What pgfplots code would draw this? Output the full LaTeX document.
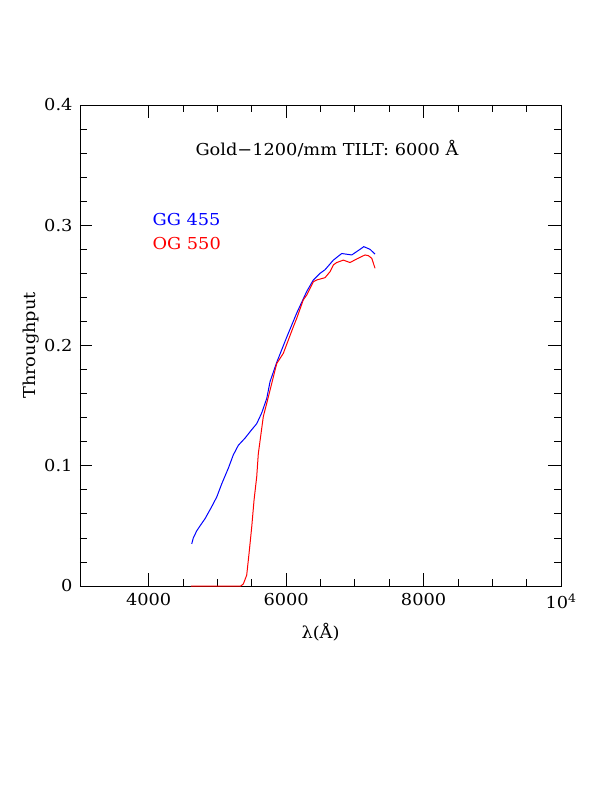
\documentclass[border=0pt]{standalone}
\usepackage{fontspec}
\setmainfont[FakeStretch=1.08]{DejaVu Serif}
\usepackage{pgfplots}
\pgfplotsset{compat=1.18}
\begin{document}
\begin{tikzpicture}[x=1bp,y=1bp]
\begin{axis}[
  scale only axis,
  width=481bp, height=481bp,
  xmin=3000, xmax=10000, ymin=0, ymax=0.4,
  scaled x ticks=false, scaled y ticks=false,
  xtick={4000,6000,8000,10000},
  xticklabels={4000,6000,8000,10\textsuperscript{4}},
  minor x tick num=3,
  ytick={0,0.1,0.2,0.3,0.4},
  yticklabels={0,0.1,0.2,0.3,0.4},
  minor y tick num=4,
  tick align=inside,
  xtick pos=both, ytick pos=both,
  major tick length=12.5bp, minor tick length=7bp,
  axis line style={line width=0.8bp},
  every tick/.style={line width=0.8bp, black},
  tick label style={font=\fontsize{16.5}{19}\selectfont},
  /pgf/number format/assume math mode=true,
  xticklabel style={yshift=-4bp},
  yticklabel style={xshift=-4bp},
  xlabel={λ(Å)}, ylabel={Throughput},
  label style={font=\fontsize{16.5}{19}\selectfont},
  xlabel style={yshift=-8bp},
  ylabel style={yshift=-2bp},
  clip=false,
]
\addplot[blue, line width=1bp] coordinates {
(4626,0.035) (4649,0.040) (4700,0.046) (4747,0.050) (4820,0.056)
(4917,0.066) (4990,0.074) (5063,0.085) (5159,0.098) (5231,0.109)
(5304,0.117) (5402,0.123) (5499,0.130) (5572,0.135) (5645,0.144)
(5718,0.156) (5766,0.170) (5863,0.186) (6009,0.207) (6154,0.227)
(6300,0.245) (6396,0.2545) (6493,0.260) (6566,0.263) (6687,0.271)
(6809,0.2765) (6955,0.2753) (7076,0.280) (7130,0.2822) (7220,0.280)
(7294,0.276)
};
\addplot[red, line width=1bp] coordinates {
(4615,0) (5340,0) (5377,0.0017) (5426,0.009) (5460,0.027)
(5499,0.049) (5533,0.0715) (5572,0.091) (5595,0.110) (5635,0.127)
(5668,0.141) (5718,0.152) (5863,0.185) (5959,0.1935) (6105,0.2156)
(6154,0.2226) (6250,0.238) (6300,0.242) (6396,0.253) (6445,0.2545)
(6541,0.256) (6566,0.2564) (6639,0.2614) (6687,0.267) (6736,0.269)
(6833,0.271) (6930,0.269) (7028,0.272) (7148,0.2753) (7197,0.2747)
(7246,0.2725) (7294,0.2642)
};
\node[font=\fontsize{16.5}{19}\selectfont] at (axis cs:6595,0.364) {Gold−1200/mm TILT: 6000 Å};
\node[anchor=west, blue, font=\fontsize{16.5}{19}\selectfont] at (axis cs:4005,0.3044) {GG 455};
\node[anchor=west, red, font=\fontsize{16.5}{19}\selectfont] at (axis cs:4005,0.2844) {OG 550};
\end{axis}
\path (current axis.south west) ++(-80bp,-206bp) rectangle ++(612bp,792bp);
\end{tikzpicture}
\end{document}
